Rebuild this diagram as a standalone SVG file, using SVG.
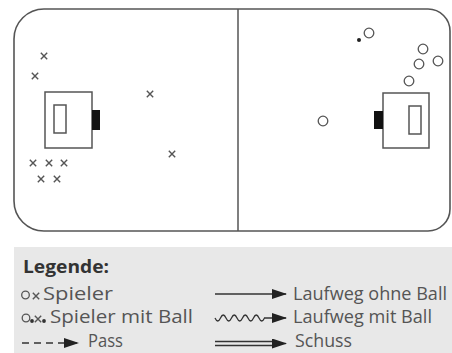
<svg xmlns="http://www.w3.org/2000/svg" width="452" height="353" viewBox="0 0 452 353">
<defs>
<style>
.field{fill:#fff;stroke:#555;stroke-width:1.6}
.line{stroke:#555;stroke-width:1.5;fill:none}
.box{fill:#fff;stroke:#555;stroke-width:1.5}
.keeper{fill:#111}
.x{stroke:#555;stroke-width:1.4;fill:none}
.o{stroke:#555;stroke-width:1.3;fill:#fff}
.lo{stroke:#555;stroke-width:1.3;fill:none}
.lbl{font-family:"Open Sans","Noto Sans",sans-serif;font-size:18px;fill:#555}
.ttl{font-family:"Open Sans","Noto Sans",sans-serif;font-size:17px;font-weight:bold;fill:#333}
.arr{stroke:#333;stroke-width:1.3;fill:none}
</style>
<path id="xm" d="M-3.2,-3.2 L3.2,3.2 M3.2,-3.2 L-3.2,3.2"/>
<marker id="ah" viewBox="0 0 15 10" refX="14" refY="5" markerWidth="15" markerHeight="10" markerUnits="userSpaceOnUse" orient="auto">
<path d="M0,0 L15,5 L0,10 Z" fill="#222"/>
</marker>
</defs>
<rect width="452" height="353" fill="#fff"/>
<g id="field">
<path class="field" d="M44,9 H428 A22,22 0 0 1 450,31 V209 A22,22 0 0 1 428,231 H44 A30,30 0 0 1 14,201 V39 A30,30 0 0 1 44,9 Z"/>
<line class="line" x1="238" y1="9" x2="238" y2="231"/>
</g>
<g id="goal-left">
<rect class="box" x="45" y="92" width="47" height="56"/>
<rect class="box" x="54" y="105" width="12" height="28"/>
<rect class="keeper" x="92" y="110" width="8" height="20"/>
</g>
<g id="goal-right">
<rect class="box" x="383" y="93" width="46" height="55"/>
<rect class="box" x="409" y="106" width="12" height="28"/>
<rect class="keeper" x="374" y="111" width="9" height="18"/>
</g>
<g id="players-x">
<use href="#xm" class="x" x="44" y="56"/>
<use href="#xm" class="x" x="35" y="76"/>
<use href="#xm" class="x" x="150" y="94"/>
<use href="#xm" class="x" x="172" y="154"/>
<use href="#xm" class="x" x="33" y="163"/>
<use href="#xm" class="x" x="49" y="163"/>
<use href="#xm" class="x" x="64" y="163"/>
<use href="#xm" class="x" x="41" y="179"/>
<use href="#xm" class="x" x="57" y="179"/>
</g>
<g id="players-o">
<circle class="o" cx="369" cy="33" r="4.8"/>
<circle cx="359" cy="40" r="2" fill="#222"/>
<circle class="o" cx="423" cy="49" r="4.8"/>
<circle class="o" cx="419" cy="64" r="4.8"/>
<circle class="o" cx="438" cy="61" r="4.8"/>
<circle class="o" cx="409" cy="81" r="4.8"/>
<circle class="o" cx="323" cy="121" r="4.8"/>
</g>
<g id="legend">
<rect x="14" y="247" width="438" height="106" fill="#e8e8e8"/>
<text class="ttl" x="23" y="273" textLength="86" lengthAdjust="spacingAndGlyphs">Legende:</text>
<circle class="lo" cx="25.5" cy="295" r="3.8"/>
<use href="#xm" class="x" x="36" y="296"/>
<text class="lbl" x="43" y="300" textLength="70" lengthAdjust="spacingAndGlyphs">Spieler</text>
<circle class="lo" cx="26" cy="318" r="3.8"/>
<circle cx="32" cy="321" r="1.9" fill="#333"/>
<use href="#xm" class="x" x="38" y="319"/>
<circle cx="44" cy="321" r="1.9" fill="#333"/>
<text class="lbl" x="50" y="323" textLength="143" lengthAdjust="spacingAndGlyphs">Spieler mit Ball</text>
<text class="lbl" x="88" y="347" textLength="35" lengthAdjust="spacingAndGlyphs">Pass</text>
<text class="lbl" x="293" y="300" textLength="154" lengthAdjust="spacingAndGlyphs">Laufweg ohne Ball</text>
<text class="lbl" x="293" y="323" textLength="139" lengthAdjust="spacingAndGlyphs">Laufweg mit Ball</text>
<text class="lbl" x="295" y="347" textLength="57" lengthAdjust="spacingAndGlyphs">Schuss</text>
</g>
<g id="connectors">
<line class="arr" x1="22" y1="343" x2="78" y2="343" stroke-dasharray="7,5" marker-end="url(#ah)"/>
<line class="arr" x1="215" y1="294" x2="286" y2="294" marker-end="url(#ah)"/>
<path class="arr" d="M215,318 q2.75,6 5.5,0 t5.5,0 t5.5,0 t5.5,0 t5.5,0 t5.5,0 t5.5,0 t5.5,0 t5.5,0 L286,318" marker-end="url(#ah)"/>
<line class="arr" x1="215" y1="341.5" x2="276" y2="341.5"/>
<line class="arr" x1="215" y1="345.5" x2="276" y2="345.5"/>
<line class="arr" x1="274" y1="343.5" x2="286" y2="343.5" marker-end="url(#ah)"/>
</g>
</svg>
